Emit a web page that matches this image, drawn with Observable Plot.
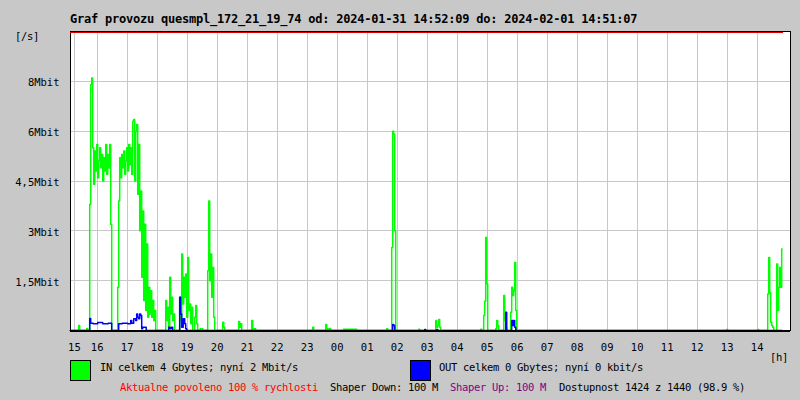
<!DOCTYPE html>
<html>
<head>
<meta charset="utf-8">
<script src="https://cdn.jsdelivr.net/npm/d3@7"></script>
<script src="https://cdn.jsdelivr.net/npm/@observablehq/plot@0.6"></script>
<style>
  html, body { margin: 0; padding: 0; background: #c8c8c8; }
  #wrap { position: relative; width: 800px; height: 400px; background: #c8c8c8; overflow: hidden;
          font-family: "DejaVu Sans Mono", "Liberation Mono", monospace; }
  #chart { position: absolute; left: 0; top: 0; }
  .t { position: absolute; white-space: pre; font-size: 10.5px; line-height: 12px; letter-spacing: -0.32px; color: #000; }
  .title { position: absolute; white-space: pre; font-size: 12px; line-height: 14px; font-weight: bold; letter-spacing: -0.22px; }
  .sw { position: absolute; width: 19px; height: 19px; border: 1px solid #000; }
</style>
</head>
<body>
<div id="wrap">
  <div id="chart"></div>
  <div class="title" style="left:70px;top:12px">Graf provozu quesmpl_172_21_19_74 od: 2024-01-31 14:52:09 do: 2024-02-01 14:51:07</div>
  <div class="t" style="left:15px;top:30px">[/s]</div>
  <div class="t" style="left:770px;top:351px">[h]</div>
  <div class="sw" style="left:70px;top:360px;background:#00ff00"></div>
  <div class="t" style="left:100px;top:361px">IN celkem 4 Gbytes; nyní 2 Mbit/s</div>
  <div class="sw" style="left:410px;top:360px;background:#0000ff"></div>
  <div class="t" style="left:439px;top:361px">OUT celkem 0 Gbytes; nyní 0 kbit/s</div>
  <div class="t" style="left:120px;top:381px;color:#ff0000">Aktualne povoleno 100 % rychlosti</div>
  <div class="t" style="left:330px;top:381px">Shaper Down: 100 M</div>
  <div class="t" style="left:450px;top:381px;color:#800080">Shaper Up: 100 M</div>
  <div class="t" style="left:559px;top:381px">Dostupnost 1424 z 1440 (98.9 %)</div>
</div>
<script>
// 2-minute sample index counted from 2024-01-31 15:00
const sampleIn = [3,11,12,13,19,20,21,22,23,24,25,26,27,28,29,30,31,32,33,34,35,36,37,38,39,40,41,42,43,44,45,
  50,51,52,53,54,55,56,57,58,59,60,61,62,63,64,65,66,67,68,69,70,71,72,73,74,75,76,77,78,79,80,81,82,83,84,85,86,87,88,89,
  98,99,100,101,102,103,104,105,106,107,108,112,113,114,115,116,117,118,119,120,121,122,123,124,125,126,127,128,129,130,131,
  135,136,140,141,142,143,144,145,146,147,148,155,156,157,158,171,172,173,174,175,184,185,186,188,189,
  245,246,247,258,259,260,261,263,264,289,290,319,320,321,324,325,326,327,328,329,
  351,352,353,368,369,370,371,372,373,374,413,414,415,416,417,418,419,420,421,
  428,429,430,431,432,436,437,438,439,440,443,444,445,446,447,448,449,450,
  659,660,661,690,691,692,700,701,702,703,704,705,706,707,709,710,711,712,713,714,715];
const inMbit = [0,0,0.15,0,0,0.06,0,0,3.8,7.4,7.6,5.5,4.4,5.4,4.8,5.6,4.6,5.1,5.5,4.9,5.3,4.5,5.2,4.8,5.6,4.7,5.3,4.9,5.6,3.2,0,
  0,1.3,3.9,5.2,4.6,5.3,4.9,5.4,4.7,5.1,5.5,4.8,5.6,5.0,5.5,4.7,6.3,6.35,4.5,6.0,6.2,4.1,5.6,3.0,4.2,1.6,3.6,0.9,3.2,0.6,2.6,0.4,1.3,0.5,1.2,0.4,0.9,0.3,0.6,0,
  0,0.9,0.3,0.7,0.1,1.6,0.5,1.0,0.3,0.5,0,0,1.0,0.3,2.3,0.8,1.6,1.0,1.7,0.4,2.2,0.6,0.8,0.2,0.7,0,0,0.4,0.75,0.2,0,
  0.05,0,0,1.8,3.9,1.5,2.3,1.0,1.9,0.4,0,0,0.25,0.1,0,0,0.27,0.1,0.2,0,0,0.3,0,0.05,0,
  0,0.1,0,0,0.18,0.05,0,0.06,0,0.04,0,0,0.05,0,0,2.5,6.0,5.9,3.0,0,
  0,0.04,0,0,0.3,0.1,0.15,0.33,0.1,0,0,0.04,0,0,0.45,0.88,2.8,1.4,0,
  0,0.05,0.3,0.15,0,0,1.05,0.3,0.1,0,0,0.55,1.3,1.05,1.2,2.05,0.6,0,
  0,0.03,0,0,0.03,0,0,1.1,2.2,1.14,0.25,0.15,0.1,0,0,2.0,0.6,1.3,1.9,1.3,2.45];

const sampleOut = [3,22,23,24,28,33,38,44,45,51,52,58,63,64,65,68,69,70,71,72,73,74,75,76,78,80,
  101,102,103,105,106,112,113,114,115,117,118,119,120,325,326,327,328,357,358,359,369,370,371,
  438,439,440,444,445,446,447,448,449,715];
const outMbit = [0,0,0.36,0.22,0.2,0.24,0.2,0.22,0,0,0.2,0.22,0.2,0.3,0.22,0.35,0.3,0.5,0.4,0.35,0.5,0.45,0.05,0.1,0.1,0,
  0,0.1,0.05,0.1,0,0,1.0,0.5,0.1,0.35,0.2,0.05,0,0,0.18,0.15,0,0,0.03,0,0,0.03,0,
  0,0.55,0,0,0.3,0.15,0.3,0.1,0,0];

const tickHours = [15.24,16,17,18,19,20,21,22,23,24,25,26,27,28,29,30,31,32,33,34,35,36,37,38];
const tickLabels = ["15","16","17","18","19","20","21","22","23","00","01","02","03","04","05","06","07","08","09","10","11","12","13","14"];
const yTicks = [1.5, 3, 4.5, 6, 7.5];
const yLabels = ["1,5Mbit","3Mbit","4,5Mbit","6Mbit","8Mbit"];
const xDomain = [15.11, 39.11];
const yMax = 9;

const toHour = s => 15 + s / 30;
const inData = sampleIn.map((s, i) => ({hour: toHour(s), v: inMbit[i]}));
const outData = sampleOut.map((s, i) => ({hour: toHour(s), v: outMbit[i]}));
const xLab = new Map(tickHours.map((h, i) => [h, tickLabels[i]]));
const yLab = new Map(yTicks.map((v, i) => [v, yLabels[i]]));
const lastHour = toHour(sampleIn[sampleIn.length - 1] + 1);

const chart = Plot.plot({
  width: 800, height: 400,
  marginLeft: 70, marginRight: 10, marginTop: 31, marginBottom: 70,
  style: {background: "transparent", fontFamily: "DejaVu Sans Mono, monospace", fontSize: "10.5px", color: "#000"},
  x: {domain: xDomain, label: null},
  y: {domain: [0, yMax], label: null},
  marks: [
    Plot.frame({fill: "#ffffff", stroke: null}),
    Plot.gridX(tickHours, {stroke: "#c8c8c8", strokeOpacity: 1, shapeRendering: "crispEdges"}),
    Plot.gridY(yTicks, {stroke: "#c8c8c8", strokeOpacity: 1, shapeRendering: "crispEdges"}),
    Plot.line(inData, {x: "hour", y: "v", curve: "step", stroke: "#00ff00", strokeWidth: 1.5}),
    Plot.line(outData, {x: "hour", y: "v", curve: "step", stroke: "#0000ff", strokeWidth: 1.5}),
    Plot.frame({stroke: "#000", strokeWidth: 1, shapeRendering: "crispEdges"}),
    Plot.ruleY([0], {stroke: "#000", strokeWidth: 2, shapeRendering: "crispEdges"}),
    Plot.ruleY([yMax], {x1: xDomain[0], x2: lastHour, stroke: "#e00000", strokeWidth: 1, dy: 1, shapeRendering: "crispEdges"}),
    Plot.axisX(tickHours, {label: null, tickSize: 0, tickPadding: 13, tickFormat: d => xLab.get(d), fill: "#000"}),
    Plot.axisY(yTicks, {label: null, tickSize: 0, tickPadding: 11, tickFormat: d => yLab.get(d), fill: "#000", dy: 1.5})
  ]
});
document.getElementById("chart").appendChild(chart);
</script>
</body>
</html>
